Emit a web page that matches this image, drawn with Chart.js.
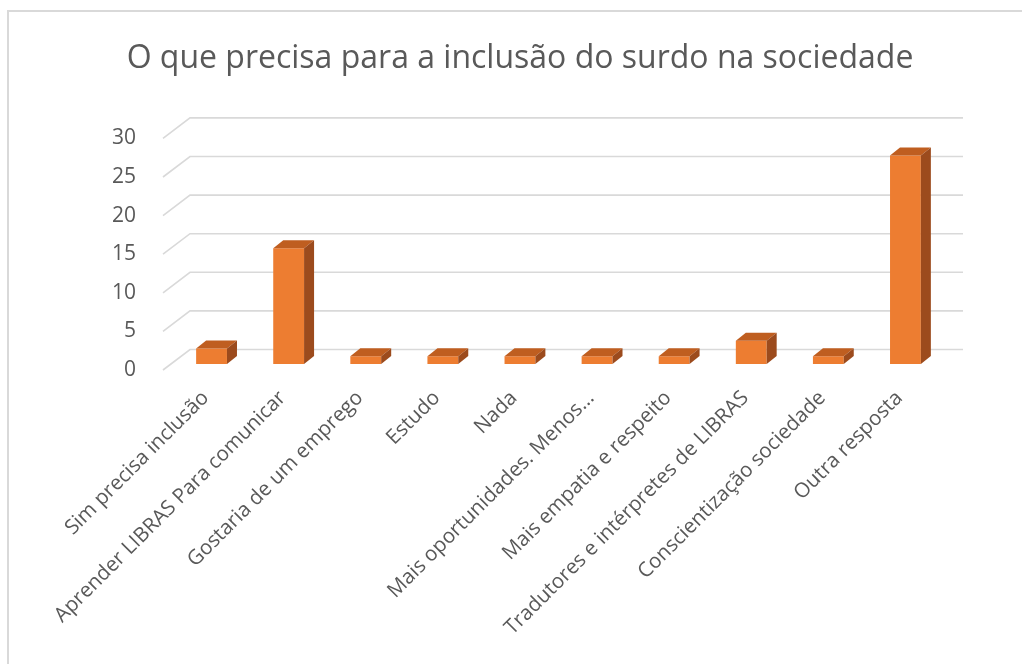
<!DOCTYPE html>
<html>
<head>
<meta charset="utf-8">
<script src="https://cdn.jsdelivr.net/npm/chart.js@4"></script>
<style>
  html, body { margin: 0; padding: 0; background: #fff; overflow: hidden; }
  .frame { position: absolute; left: 7px; top: 10px; width: 1100px; height: 700px;
           border-left: 2px solid #d9d9d9; border-top: 2px solid #d9d9d9; }
  .wrap { position: absolute; left: 0; top: 0; width: 1022px; height: 664px; }
</style>
</head>
<body>
<div class="frame"></div>
<div class="wrap"><canvas id="myChart" width="1022" height="664"></canvas></div>
<script>
const chartTitle = 'O que precisa para a inclusão do surdo na sociedade';
const categories = [
  'Sim precisa inclusão',
  'Aprender LIBRAS Para comunicar',
  'Gostaria de um emprego',
  'Estudo',
  'Nada',
  'Mais oportunidades. Menos...',
  'Mais empatia e respeito',
  'Tradutores e intérpretes de LIBRAS',
  'Conscientização sociedade',
  'Outra resposta'
];
const values = [2, 15, 1, 1, 1, 1, 1, 3, 1, 27];
const yTicks = [0, 5, 10, 15, 20, 25, 30];

const textColor = '#595959';
const gridColor = '#d9d9d9';

// fake 3d: grid walls and the top / side faces of each bar
const depth3d = {
  id: 'depth3d',
  beforeDatasetsDraw(chart) {
    const c = chart.ctx, a = chart.chartArea, y = chart.scales.y;
    c.save();
    c.strokeStyle = gridColor;
    c.lineWidth = 1.6;
    yTicks.forEach(v => {
      const py = y.getPixelForValue(v);
      c.beginPath();
      c.moveTo(a.left - 10, py + 6);
      c.lineTo(a.left + 17, py - 14.5);
      c.lineTo(a.right + 19, py - 14.5);
      c.stroke();
    });
    c.restore();
  },
  afterDatasetsDraw(chart) {
    const c = chart.ctx;
    const dx = 10, dy = -8;
    c.save();
    chart.getDatasetMeta(0).data.forEach(bar => {
      const p = bar.getProps(['x', 'y', 'base', 'width'], true);
      const l = p.x - p.width / 2, r = p.x + p.width / 2;
      c.fillStyle = '#bf5e20';
      c.beginPath();
      c.moveTo(l, p.y); c.lineTo(r, p.y); c.lineTo(r + dx, p.y + dy); c.lineTo(l + dx, p.y + dy);
      c.closePath(); c.fill();
      c.fillStyle = '#9c4b1d';
      c.beginPath();
      c.moveTo(r, p.y); c.lineTo(r + dx, p.y + dy); c.lineTo(r + dx, p.base + dy); c.lineTo(r, p.base);
      c.closePath(); c.fill();
    });
    c.restore();
  }
};

const ctx = document.getElementById('myChart').getContext('2d');
let myChart = new Chart(ctx, {
  type: 'bar',
  data: {
    labels: categories,
    datasets: [{
      data: values,
      backgroundColor: '#ed7d31',
      barPercentage: 0.4,
      categoryPercentage: 1
    }]
  },
  options: {
    responsive: false,
    animation: false,
    layout: { padding: { left: 96, right: 78, top: 0, bottom: 0 } },
    plugins: {
      legend: { display: false },
      tooltip: { enabled: false },
      title: {
        display: true,
        text: chartTitle,
        color: textColor,
        font: { family: 'Open Sans', size: 32, weight: 'normal' },
        padding: { top: 40, bottom: 54 }
      }
    },
    scales: {
      y: {
        min: 0, max: 30,
        ticks: { stepSize: 5, color: textColor, padding: 29, labelOffset: 6,
                 font: { family: 'Open Sans', size: 21 } },
        grid: { display: false },
        border: { display: false },
        afterFit: s => { s.width = 77; }
      },
      x: {
        ticks: { color: textColor, maxRotation: 45, minRotation: 45, padding: 14, labelOffset: -6,
                 autoSkip: false, font: { family: 'Open Sans', size: 20.5 } },
        grid: { display: false },
        border: { display: false },
        afterFit: s => { s.height = 300; }
      }
    }
  },
  plugins: [depth3d]
});
</script>
</body>
</html>
